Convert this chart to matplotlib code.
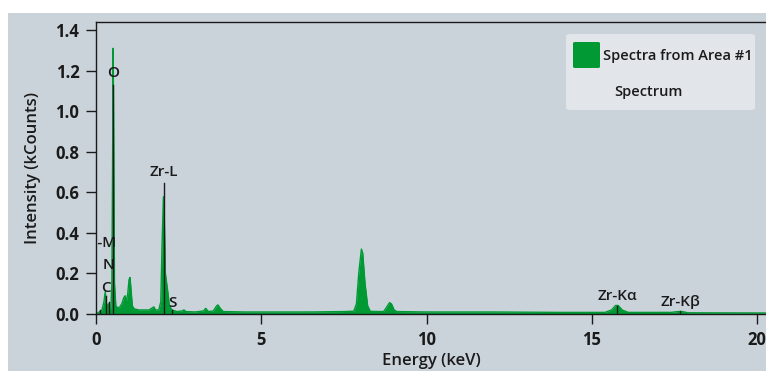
import numpy as np
import matplotlib
matplotlib.use("Agg")
import matplotlib.pyplot as plt
from matplotlib.patches import Rectangle, FancyBboxPatch

# spectrum outline (keV, kCounts)
energy = [0.00, 0.10, 0.18, 0.24, 0.28, 0.31, 0.34, 0.38, 0.41, 0.45, 0.48, 0.50, 0.52, 0.54,
          0.56, 0.60, 0.66, 0.72, 0.78, 0.84, 0.88, 0.92, 0.96, 1.00, 1.03, 1.06, 1.10, 1.16,
          1.30, 1.45, 1.60, 1.70, 1.75, 1.80, 1.90, 1.96, 2.00, 2.04, 2.07, 2.10, 2.14, 2.18,
          2.22, 2.30, 2.45, 2.60, 2.66, 2.72, 3.00, 3.25, 3.32, 3.40, 3.55, 3.65, 3.69, 3.75,
          3.85, 4.50, 5.50, 6.50, 7.50, 7.80, 7.88, 7.95, 8.03, 8.07, 8.14, 8.22, 8.30, 8.70,
          8.78, 8.88, 8.94, 9.02, 9.10, 10.0, 12.0, 14.0, 15.4, 15.6, 15.72, 15.80, 15.92, 16.1,
          17.4, 17.6, 17.75, 17.9, 20.3]
counts = [0.000, 0.010, 0.020, 0.060, 0.110, 0.060, 0.030, 0.050, 0.020, 0.030, 0.150, 0.700,
          1.310, 0.700, 0.150, 0.040, 0.030, 0.035, 0.050, 0.080, 0.090, 0.060, 0.100, 0.170,
          0.180, 0.120, 0.040, 0.025, 0.020, 0.020, 0.020, 0.030, 0.035, 0.020, 0.020, 0.060,
          0.350, 0.578, 0.450, 0.200, 0.150, 0.100, 0.040, 0.020, 0.012, 0.015, 0.020, 0.012,
          0.010, 0.015, 0.028, 0.012, 0.015, 0.040, 0.045, 0.030, 0.012, 0.010, 0.010, 0.010,
          0.012, 0.014, 0.050, 0.200, 0.320, 0.300, 0.150, 0.040, 0.013, 0.012, 0.030, 0.056,
          0.050, 0.020, 0.012, 0.010, 0.010, 0.008, 0.008, 0.020, 0.042, 0.042, 0.020, 0.008,
          0.008, 0.012, 0.012, 0.006, 0.005]

# element markers: name, line energy, top of marker line, label centre height
el_names = ["Zr-M", "C", "N", "O", "Zr-L", "S", "Zr-K\u03b1", "Zr-K\u03b2"]
el_energy = [0.12, 0.30, 0.39, 0.525, 2.06, 2.31, 15.77, 17.67]
el_top = [0.02, 0.09, 0.06, 1.13, 0.647, 0.02, 0.04, 0.015]
el_label_y = [0.35, 0.13, 0.24, 1.19, 0.70, 0.054, 0.089, 0.058]

yticks = [0.0, 0.2, 0.4, 0.6, 0.8, 1.0, 1.2, 1.4]
xticks = [0, 5, 10, 15, 20]

green = "#009933"
bg = "#cbd3da"
ink = "#1a1a1a"
plt.rcParams["font.family"] = ["Open Sans", "DejaVu Sans"]

fig = plt.figure(figsize=(7.66, 3.71), dpi=100)
fig.patch.set_facecolor("white")
fig.patches.append(Rectangle((8 / 766, 0), 1, 358 / 371, transform=fig.transFigure,
                             facecolor=bg, edgecolor="none", zorder=-10))

ax = fig.add_axes([96 / 766, 57 / 371, 670 / 766, 292 / 371])
ax.set_facecolor(bg)
ax.fill_between(energy, counts, 0, color=green, lw=0, zorder=2)
ax.plot(energy, counts, color=green, lw=1.0, zorder=2)

for name, e, top, ly in zip(el_names, el_energy, el_top, el_label_y):
    ax.plot([e, e], [0, top], color=ink, lw=1.0, zorder=3)
    ax.text(e, ly, name, ha="center", va="center", fontsize=11, color=ink,
            fontweight="semibold", zorder=4, clip_on=True)

ax.set_xlim(0, 670 / 33.05)
ax.set_ylim(0, 1.4 + 8 / 203)
ax.set_xticks(xticks)
ax.set_yticks(yticks)
ax.set_yticklabels([f"{v:.1f}" for v in yticks])
ax.tick_params(axis="both", direction="out", length=7, width=1, color=ink,
               labelsize=12, labelcolor=ink, pad=5)
for lab in ax.get_xticklabels() + ax.get_yticklabels():
    lab.set_fontweight("bold")
ax.spines["right"].set_visible(False)
for s in ["left", "top", "bottom"]:
    ax.spines[s].set_color(ink)
    ax.spines[s].set_linewidth(1.0)

ax.set_xlabel("Energy (keV)", fontsize=12, color=ink, labelpad=3, fontweight="semibold")
ax.set_ylabel("Intensity (kCounts)", fontsize=12, color=ink, labelpad=10, fontweight="semibold")

# legend box
fig.patches.append(FancyBboxPatch((566 / 766, 1 - 110 / 371), 189 / 766, 76 / 371,
                                  boxstyle="round,pad=0,rounding_size=0.006",
                                  transform=fig.transFigure, facecolor="#e2e6ea",
                                  edgecolor="none", zorder=5))
fig.patches.append(FancyBboxPatch((573 / 766, 1 - 68 / 371), 27 / 766, 26 / 371,
                                  boxstyle="round,pad=0,rounding_size=0.003",
                                  transform=fig.transFigure, facecolor=green,
                                  edgecolor="none", zorder=6))
fig.text(603 / 766, 1 - 56 / 371, "Spectra from Area #1", ha="left", va="center",
         fontsize=10.5, fontweight="semibold", color=ink, zorder=7)
fig.text(648 / 766, 1 - 92 / 371, "Spectrum", ha="center", va="center",
         fontsize=10.5, fontweight="semibold", color=ink, zorder=7)

fig.savefig("out.png", dpi=100)
